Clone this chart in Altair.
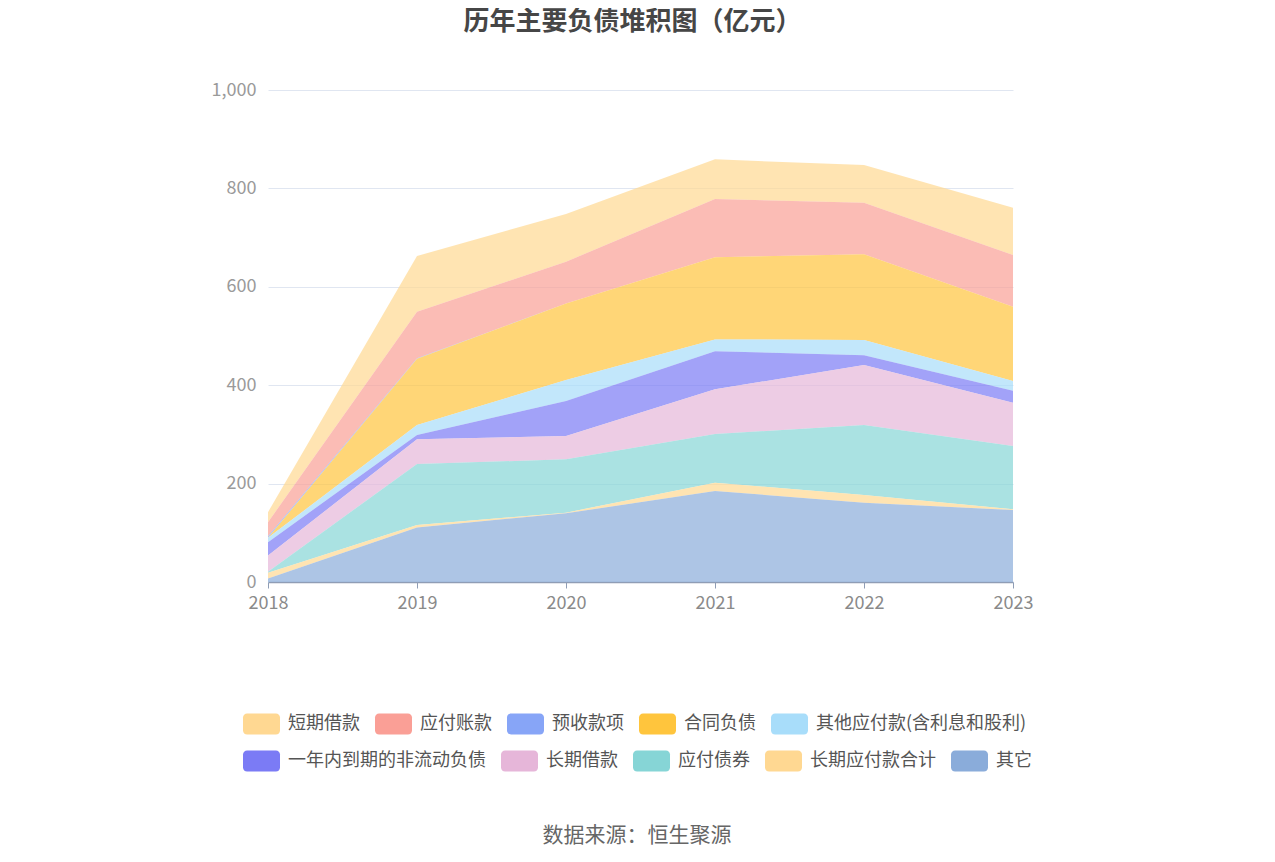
import altair as alt
import pandas as pd

years = ["2018", "2019", "2020", "2021", "2022", "2023"]
series = ["短期借款", "应付账款", "预收款项", "合同负债", "其他应付款(含利息和股利)",
          "一年内到期的非流动负债", "长期借款", "应付债券", "长期应付款合计", "其它"]
colors = ["#FFD892", "#FA9F96", "#87A5F7", "#FFC53D", "#A8DDFA",
          "#7B7BF5", "#E6B6D9", "#86D5D6", "#FFD892", "#8AACDA"]

short_loan = [20.4, 113.2, 97.0, 80.5, 76.6, 96.2]
payable = [28.6, 94.8, 85.0, 118.5, 105.0, 105.0]
advance = [3.2, 1.0, 0.0, 0.0, 0.0, 0.0]
contract = [0.0, 134.6, 155.4, 167.0, 174.1, 151.1]
other_payable = [8.8, 20.2, 42.6, 24.0, 31.2, 19.6]
current_noncurrent = [27.0, 8.8, 71.3, 77.3, 19.7, 24.4]
long_loan = [33.0, 50.2, 47.3, 90.9, 122.0, 88.1]
bonds = [2.0, 123.9, 108.4, 98.9, 142.2, 128.7]
long_payable = [12.0, 4.9, 1.4, 16.9, 15.8, 1.4]
others = [7.0, 111.0, 139.6, 185.0, 161.0, 146.3]

title_text = "历年主要负债堆积图（亿元）"
source_text = "数据来源：恒生聚源"

values = [short_loan, payable, advance, contract, other_payable,
          current_noncurrent, long_loan, bonds, long_payable, others]

rows = []
for i, (name, vals) in enumerate(zip(series, values)):
    for y, v in zip(years, vals):
        rows.append({"year": y, "series": name, "value": v, "order": len(series) - 1 - i})
df = pd.DataFrame(rows)

FONT = "Noto Sans CJK SC"
sym = ("M-0.78,-0.57 H0.78 A0.22,0.22 0 0 1 1,-0.35 V0.35 A0.22,0.22 0 0 1 0.78,0.57 "
       "H-0.78 A0.22,0.22 0 0 1 -1,0.35 V-0.35 A0.22,0.22 0 0 1 -0.78,-0.57 Z")

x_enc = alt.X("year:O", sort=years, scale=alt.Scale(type="point", padding=0),
              axis=alt.Axis(title=None, labelAngle=0, labelFont=FONT, labelFontSize=18,
                            labelColor="#8a8a8a", labelPadding=6, domainColor="#8f9db5",
                            tickColor="#8f9db5", tickSize=6, domainWidth=1.5, grid=False))
y_enc = alt.Y("value:Q", stack="zero", scale=alt.Scale(domain=[0, 1000]),
              axis=alt.Axis(title=None, values=[0, 200, 400, 600, 800, 1000], format=",d",
                            labelFont=FONT, labelFontSize=18, labelColor="#9a9a9a",
                            labelPadding=12, domain=False, ticks=False,
                            gridColor="#E0E6F1", gridWidth=1))

areas = alt.Chart(df).mark_area(opacity=0.7, interpolate="linear").encode(
    x=x_enc,
    y=y_enc,
    color=alt.Color("series:N", sort=series,
                    scale=alt.Scale(domain=series, range=colors), legend=None),
    order=alt.Order("order:Q", sort="ascending"),
)


def legend_layer(names, cols, ly):
    sub = df[df["series"].isin(names)]
    return alt.Chart(sub).mark_area(opacity=0).encode(
        x=alt.X("year:O", sort=years),
        y=alt.Y("value:Q", stack="zero"),
        color=alt.Color("series:N", sort=names,
                        scale=alt.Scale(domain=names, range=cols),
                        legend=alt.Legend(title=None, orient="none", legendX=-25, legendY=ly,
                                          direction="horizontal",
                                          symbolType=sym, symbolSize=1369, symbolOpacity=1,
                                          symbolStrokeWidth=0, labelFont=FONT,
                                          labelFontSize=18, labelColor="#555555",
                                          labelOffset=8, columnPadding=15,
                                          labelLimit=400)),
    )


leg1 = legend_layer(series[:5], colors[:5], 615)
leg2 = legend_layer(series[5:], colors[5:], 652)

source = alt.Chart(pd.DataFrame({"t": [source_text]})).mark_text(
    font=FONT, fontSize=21, color="#666666", align="center", baseline="middle"
).encode(text="t:N", x=alt.value(369), y=alt.value(746))

chart = alt.layer(areas, leg1, leg2, source).resolve_scale(color="independent").properties(
    width=745, height=492,
    title=alt.Title(title_text, font=FONT, fontSize=26, fontWeight="bold", color="#464646",
                    anchor="middle", offset=46, dx=-8),
    padding={"left": 260, "top": 82, "right": 254, "bottom": 272},
    autosize=alt.AutoSizeParams(type="none"),
).configure_view(stroke=None)

chart.save("out.html", embed_options={"renderer": "svg", "actions": False})
